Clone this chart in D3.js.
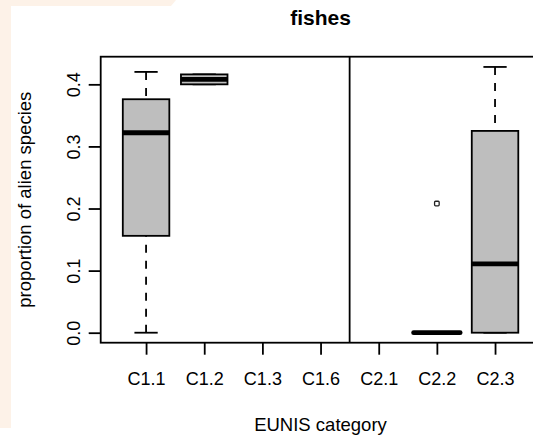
<!DOCTYPE html>
<html><head><meta charset="utf-8">
<script src="https://cdn.jsdelivr.net/npm/d3@7"></script>
<style>body{margin:0;background:#fff}svg{display:block}</style>
</head><body>
<script>
const categories = ["C1.1","C1.2","C1.3","C1.6","C2.1","C2.2","C2.3"];
const lowerWhisker = [0.000, 0.400, null, null, null, 0.000, 0.000];
const q1Values     = [0.156, 0.400, null, null, null, 0.000, 0.000];
const medians      = [0.322, 0.408, null, null, null, 0.000, 0.111];
const q3Values     = [0.376, 0.416, null, null, null, 0.000, 0.325];
const upperWhisker = [0.420, 0.416, null, null, null, 0.000, 0.428];
const outlierCats  = ["C2.2"];
const outlierVals  = [0.208];
const yTicks = [0, 0.1, 0.2, 0.3, 0.4];
const groupSplit = 4.5;

const W = 533, H = 438;
const svg = d3.select("body").append("svg").attr("width", W).attr("height", H);

// decorative page background
svg.append("path")
  .attr("d", "M0,0 L176,0 L171,6 L11,6 L11,428 L0,428 Z")
  .attr("fill", "#fdf2e8");

const x = d3.scaleLinear().domain([0.22, 7.78]).range([100.7, 540.4]);
const y = d3.scaleLinear().domain([-0.0161, 0.4445]).range([342.7, 56.7]);
const pos = c => categories.indexOf(c) + 1;
const halfBox = (x(1.4) - x(1)) ;
const halfCap = halfBox / 2;

const font = "'Liberation Sans', Arial, Helvetica, sans-serif";

const boxes = categories.map((c, i) => ({
  c, lo: lowerWhisker[i], q1: q1Values[i], med: medians[i], q3: q3Values[i], hi: upperWhisker[i]
})).filter(d => d.med !== null);

const g = svg.append("g");
boxes.forEach(d => {
  const cx = x(pos(d.c));
  // whiskers (drawn from whisker end to box edge)
  [[d.hi, d.q3], [d.lo, d.q1]].forEach(([a, b]) => {
    if (a !== b) {
      g.append("line").attr("x1", cx).attr("x2", cx).attr("y1", y(a)).attr("y2", y(b))
        .attr("stroke", "#000").attr("stroke-width", 1.8).attr("stroke-dasharray", "8,8");
    }
    g.append("line").attr("x1", cx - halfCap).attr("x2", cx + halfCap).attr("y1", y(a)).attr("y2", y(a))
      .attr("stroke", "#000").attr("stroke-width", 1.8);
  });
  // box
  g.append("rect").attr("x", cx - halfBox).attr("width", 2 * halfBox)
    .attr("y", y(d.q3)).attr("height", Math.max(0, y(d.q1) - y(d.q3)))
    .attr("fill", "#bebebe").attr("stroke", "#000").attr("stroke-width", 1.8);
  // median
  g.append("line").attr("x1", cx - halfBox).attr("x2", cx + halfBox).attr("y1", y(d.med)).attr("y2", y(d.med))
    .attr("stroke", "#000").attr("stroke-width", 4.8).attr("stroke-linecap", d.q1 === d.q3 ? "round" : "butt");
});

outlierCats.forEach((c, i) => {
  svg.append("rect").attr("x", x(pos(c)) - 2.3).attr("y", y(outlierVals[i]) - 2.3)
    .attr("width", 4.6).attr("height", 4.6).attr("rx", 1)
    .attr("fill", "#fff").attr("stroke", "#222").attr("stroke-width", 1.3);
});

// frame
svg.append("rect").attr("x", 100.7).attr("y", 56.7).attr("width", 540.4 - 100.7).attr("height", 342.7 - 56.7)
  .attr("fill", "none").attr("stroke", "#000").attr("stroke-width", 1.8);
// split line
svg.append("line").attr("x1", x(groupSplit)).attr("x2", x(groupSplit)).attr("y1", 56.7).attr("y2", 342.7)
  .attr("stroke", "#000").attr("stroke-width", 1.8);

// x axis
const xa = svg.append("g").attr("transform", "translate(0,342.7)")
  .call(d3.axisBottom(x).tickValues(categories.map((c, i) => i + 1)).tickFormat((d) => categories[d - 1]).tickSize(12).tickPadding(18));
xa.select(".domain").remove();
xa.selectAll(".tick line").attr("stroke-width", 1.8);
xa.selectAll("text").attr("font-family", font).attr("font-size", 18).attr("fill", "#000");

// y axis
const ya = svg.append("g").attr("transform", "translate(100.7,0)")
  .call(d3.axisLeft(y).tickValues(yTicks).tickFormat(d3.format(".1f")).tickSize(12));
ya.select(".domain").remove();
ya.selectAll(".tick line").attr("stroke-width", 1.8);
ya.selectAll("text").remove();
ya.selectAll(".tick").append("text")
  .attr("transform", "translate(-27,0) rotate(-90)")
  .attr("text-anchor", "middle").attr("dy", "0.35em")
  .attr("font-family", font).attr("font-size", 18).attr("fill", "#000")
  .text(d => d3.format(".1f")(d));

// labels
svg.append("text").attr("x", 320.5).attr("y", 25).attr("text-anchor", "middle")
  .attr("font-family", font).attr("font-weight", "bold").attr("font-size", 21).text("fishes");
svg.append("text").attr("x", 320.5).attr("y", 431).attr("text-anchor", "middle")
  .attr("font-family", font).attr("font-size", 18.5).text("EUNIS category");
svg.append("text").attr("transform", "translate(31,199.7) rotate(-90)").attr("text-anchor", "middle")
  .attr("font-family", font).attr("font-size", 18.5).text("proportion of alien species");
</script>
</body></html>
